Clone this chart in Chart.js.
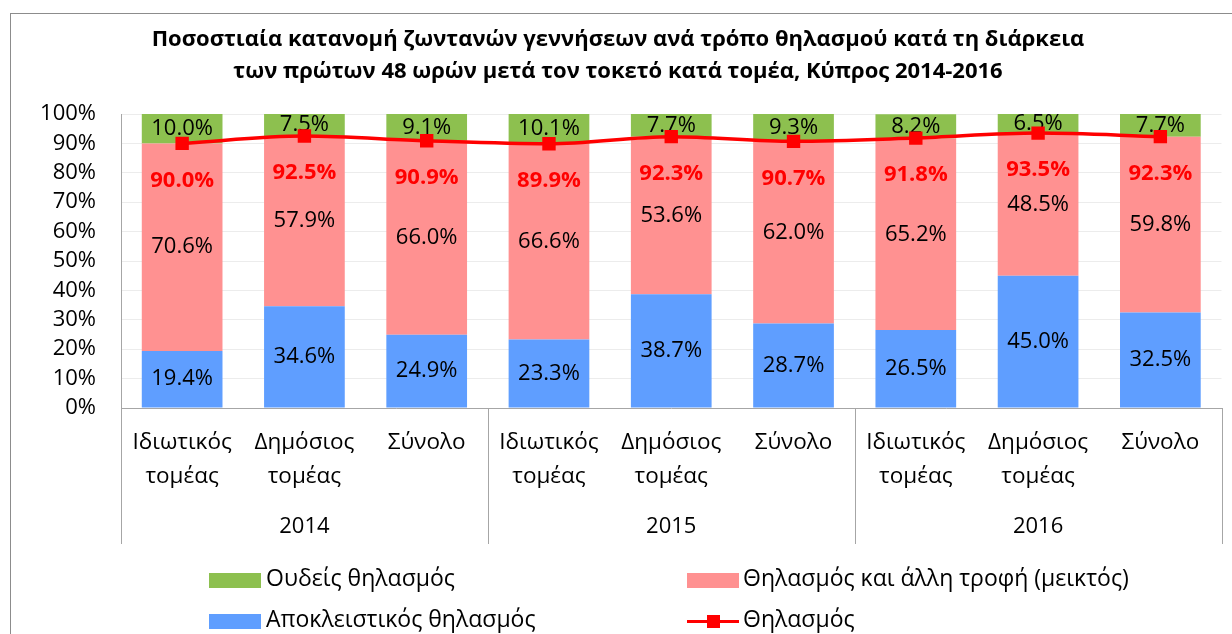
<!DOCTYPE html>
<html>
<head>
<meta charset="utf-8">
<script src="https://cdn.jsdelivr.net/npm/chart.js@4/dist/chart.umd.min.js"></script>
<style>
  html, body { margin: 0; padding: 0; background: #fff; }
  body { width: 1232px; height: 634px; position: relative; overflow: hidden; font-family: "Open Sans", sans-serif; }
  #frame { position: absolute; left: 10px; top: 13px; width: 1240px; height: 640px; border: 1px solid #8c8c8c; box-sizing: border-box; }
  #chart { position: absolute; left: 0; top: 0; }
  .title { position: absolute; left: 0; width: 1236px; text-align: center; font-weight: 700; font-size: 22px; color: #000; line-height: 1; }
  .lg { position: absolute; font-size: 23px; color: #000; line-height: 1; }
  .sw { position: absolute; width: 52px; height: 15px; }
</style>
</head>
<body>
<div id="frame"></div>
<canvas id="chart" width="1232" height="634"></canvas>
<div class="title" style="top:26px">Ποσοστιαία κατανομή ζωντανών γεννήσεων ανά τρόπο θηλασμού κατά τη διάρκεια</div>
<div class="title" style="top:58px">των πρώτων 48 ωρών μετά τον τοκετό κατά τομέα, Κύπρος 2014-2016</div>

<div class="sw" style="left:209px; top:573px; background:#8dc04f"></div>
<div class="lg" style="left:266px; top:566px">Ουδείς θηλασμός</div>
<div class="sw" style="left:209px; top:614px; background:#5f9eff"></div>
<div class="lg" style="left:266px; top:607px">Αποκλειστικός θηλασμός</div>
<div class="sw" style="left:687px; top:573px; background:#ff9191"></div>
<div class="lg" style="left:743px; top:566px">Θηλασμός και άλλη τροφή (μεικτός)</div>
<div style="position:absolute; left:687px; top:620px; width:52px; height:3px; background:#ff0000"></div>
<div style="position:absolute; left:707px; top:615px; width:13px; height:13px; background:#ff0000"></div>
<div class="lg" style="left:743px; top:607px">Θηλασμός</div>

<script>
const categories = [
  ["Ιδιωτικός", "τομέας"], ["Δημόσιος", "τομέας"], "Σύνολο",
  ["Ιδιωτικός", "τομέας"], ["Δημόσιος", "τομέας"], "Σύνολο",
  ["Ιδιωτικός", "τομέας"], ["Δημόσιος", "τομέας"], "Σύνολο",
];
const years = ["2014", "2015", "2016"];
const exclusive = [19.4, 34.6, 24.9, 23.3, 38.7, 28.7, 26.5, 45.0, 32.5];
const mixed = [70.6, 57.9, 66.0, 66.6, 53.6, 62.0, 65.2, 48.5, 59.8];
const none = [10.0, 7.5, 9.1, 10.1, 7.7, 9.3, 8.2, 6.5, 7.7];
const breastfeeding = [90.0, 92.5, 90.9, 89.9, 92.3, 90.7, 91.8, 93.5, 92.3];
const yTicks = [0, 10, 20, 30, 40, 50, 60, 70, 80, 90, 100];

const FONT = "'Open Sans', sans-serif";

function pct(v) {
  return `${Number(v).toFixed(1)}%`;
}

// bar labels drawn right after each bar dataset so the line stays on top
const labelsPlugin = {
  id: "valueLabels",
  afterDatasetDraw(chart, args) {
    const ds = chart.data.datasets[args.index];
    if (ds.type === "line") return;
    const ctx = chart.ctx;
    ctx.save();
    ctx.font = `22px ${FONT}`;
    ctx.fillStyle = "#000";
    ctx.textAlign = "center";
    ctx.textBaseline = "middle";
    args.meta.data.forEach((el, i) => {
      ctx.fillText(pct(ds.data[i]), el.x, (el.y + el.base) / 2);
    });
    ctx.restore();
  },
  afterDatasetsDraw(chart) {
    const ctx = chart.ctx;
    const idx = chart.data.datasets.findIndex((d) => d.type === "line");
    const meta = chart.getDatasetMeta(idx);
    ctx.save();
    ctx.font = `bold 22px ${FONT}`;
    ctx.fillStyle = "#ff0000";
    ctx.textAlign = "center";
    ctx.textBaseline = "middle";
    meta.data.forEach((pt, i) => {
      ctx.fillText(pct(breastfeeding[i]), pt.x, pt.y + 37);
    });
    ctx.restore();
  },
  afterDraw(chart) {
    const ctx = chart.ctx;
    const x = chart.scales.x;
    const area = chart.chartArea;
    const n = categories.length;
    const per = n / years.length;
    const edges = [];
    for (let g = 0; g <= years.length; g++) {
      const k = g * per;
      if (k === 0) edges.push(area.left);
      else if (k === n) edges.push(area.right);
      else edges.push((x.getPixelForValue(k - 1) + x.getPixelForValue(k)) / 2);
    }
    ctx.save();
    ctx.strokeStyle = "#a6a6a6";
    ctx.lineWidth = 1;
    edges.forEach((ex) => {
      const px = Math.round(ex) + 0.5;
      ctx.beginPath();
      ctx.moveTo(px, area.bottom);
      ctx.lineTo(px, area.bottom + 136);
      ctx.stroke();
    });
    ctx.font = `22px ${FONT}`;
    ctx.fillStyle = "#000";
    ctx.textAlign = "center";
    ctx.textBaseline = "middle";
    years.forEach((yr, g) => {
      ctx.fillText(yr, (edges[g] + edges[g + 1]) / 2, area.bottom + 119);
    });
    ctx.restore();
  },
};

new Chart(document.getElementById("chart"), {
  type: "bar",
  data: {
    labels: categories,
    datasets: [
      {
        type: "line",
        label: "Θηλασμός",
        data: breastfeeding,
        stack: "line",
        borderColor: "#ff0000",
        backgroundColor: "#ff0000",
        borderWidth: 3.5,
        pointStyle: "rect",
        pointRadius: 7,
        pointHoverRadius: 7,
        cubicInterpolationMode: "monotone",
        order: 0,
      },
      {
        label: "Αποκλειστικός θηλασμός",
        data: exclusive,
        backgroundColor: "#5f9eff",
        stack: "bars",
        order: 1,
      },
      {
        label: "Θηλασμός και άλλη τροφή (μεικτός)",
        data: mixed,
        backgroundColor: "#ff9191",
        stack: "bars",
        order: 1,
      },
      {
        label: "Ουδείς θηλασμός",
        data: none,
        backgroundColor: "#8dc04f",
        stack: "bars",
        order: 1,
      },
    ],
  },
  plugins: [labelsPlugin],
  options: {
    responsive: false,
    animation: false,
    events: [],
    layout: { padding: { left: 0, right: 7, top: 114, bottom: 90 } },
    datasets: { bar: { barPercentage: 0.66, categoryPercentage: 1 } },
    plugins: {
      legend: { display: false },
      title: { display: false },
      tooltip: { enabled: false },
    },
    scales: {
      x: {
        stacked: true,
        afterFit(s) { s.height = 634 - 408 - 90; },
        grid: { display: false, drawTicks: false },
        border: { display: true, color: "#a6a6a6", width: 1 },
        ticks: {
          color: "#000",
          padding: 18,
          maxRotation: 0,
          autoSkip: false,
          font: { family: FONT, size: 22.5, lineHeight: 1.5 },
        },
      },
      y: {
        stacked: true,
        min: 0,
        max: 100,
        afterFit(s) { s.width = 121; },
        afterBuildTicks(s) { s.ticks = yTicks.map((v) => ({ value: v })); },
        grid: { color: "#ececec", drawTicks: false },
        border: { display: true, color: "#a6a6a6", width: 1 },
        ticks: {
          color: "#000",
          padding: 25,
          font: { family: FONT, size: 22 },
          callback: (v) => `${v}%`,
        },
      },
    },
  },
});
</script>
</body>
</html>
